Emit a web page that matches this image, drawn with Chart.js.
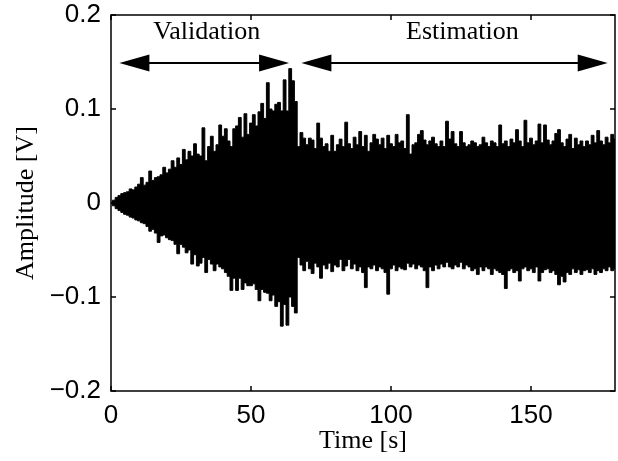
<!DOCTYPE html>
<html>
<head>
<meta charset="utf-8">
<script src="https://cdn.jsdelivr.net/npm/chart.js@4/dist/chart.umd.min.js"></script>
<style>
  html, body { margin: 0; padding: 0; background: #fff; }
  canvas { display: block; }
</style>
</head>
<body>
<canvas id="chart" width="618" height="461"></canvas>
<script>
// sample times [s]
const sampleTimes = [
  0, 1, 2, 3, 4, 5, 6, 7, 8, 9,
  10, 11, 12, 13, 14, 15, 16, 17, 18, 19,
  20, 21, 22, 23, 24, 25, 26, 27, 28, 29,
  30, 31, 32, 33, 34, 35, 36, 37, 38, 39,
  40, 41, 42, 43, 44, 45, 46, 47, 48, 49,
  50, 51, 52, 53, 54, 55, 56, 57, 58, 59,
  60, 61, 62, 63, 64, 65, 66, 67, 68, 69,
  70, 71, 72, 73, 74, 75, 76, 77, 78, 79,
  80, 81, 82, 83, 84, 85, 86, 87, 88, 89,
  90, 91, 92, 93, 94, 95, 96, 97, 98, 99,
  100, 101, 102, 103, 104, 105, 106, 107, 108, 109,
  110, 111, 112, 113, 114, 115, 116, 117, 118, 119,
  120, 121, 122, 123, 124, 125, 126, 127, 128, 129,
  130, 131, 132, 133, 134, 135, 136, 137, 138, 139,
  140, 141, 142, 143, 144, 145, 146, 147, 148, 149,
  150, 151, 152, 153, 154, 155, 156, 157, 158, 159,
  160, 161, 162, 163, 164, 165, 166, 167, 168, 169,
  170, 171, 172, 173, 174, 175, 176, 177, 178, 179,
  180
];

// upper envelope of the signal [V]
const upperEnvelope = [
  0, .003, .006, .008, .010, .011, .012, .015, .014, .017,
  .020, .027, .019, .022, .034, .024, .027, .028, .030, .038,
  .032, .036, .045, .038, .048, .041, .057, .046, .055, .050,
  .063, .052, .050, .080, .045, .060, .071, .055, .062, .083,
  .071, .079, .066, .060, .079, .082, .091, .070, .095, .073,
  .085, .094, .082, .097, .106, .090, .128, .100, .098, .105,
  .107, .098, .131, .098, .143, .130, .108, .060, .075, .069,
  .062, .069, .067, .058, .085, .069, .060, .063, .055, .072,
  .055, .062, .068, .060, .086, .063, .058, .070, .062, .076,
  .060, .072, .055, .064, .073, .068, .062, .069, .058, .072,
  .063, .060, .073, .064, .066, .058, .094, .052, .062, .064,
  .073, .077, .067, .062, .066, .070, .063, .060, .066, .060,
  .087, .068, .076, .063, .060, .076, .064, .060, .062, .066,
  .064, .060, .062, .070, .064, .060, .066, .064, .060, .083,
  .063, .066, .060, .068, .064, .078, .066, .060, .088, .064,
  .069, .062, .066, .084, .064, .083, .067, .062, .066, .074,
  .078, .064, .060, .068, .073, .058, .069, .062, .066, .060,
  .066, .062, .072, .064, .077, .066, .062, .070, .064, .073,
  .068
];

// lower envelope of the signal [V]
const lowerEnvelope = [
  0, -.003, -.006, -.008, -.010, -.012, -.013, -.015, -.016, -.018,
  -.019, -.021, -.022, -.025, -.030, -.028, -.032, -.042, -.035, -.034,
  -.037, -.039, -.040, -.044, -.054, -.044, -.047, -.053, -.050, -.065,
  -.055, -.067, -.064, -.058, -.074, -.060, -.065, -.072, -.065, -.068,
  -.070, -.074, -.078, -.093, -.080, -.093, -.080, -.092, -.085, -.088,
  -.088, -.086, -.092, -.104, -.092, -.095, -.096, -.104, -.098, -.110,
  -.105, -.131, -.108, -.130, -.100, -.110, -.117, -.058, -.066, -.072,
  -.062, -.070, -.075, -.064, -.068, -.080, -.066, -.070, -.064, -.073,
  -.066, -.068, -.060, -.072, -.067, -.060, -.070, -.065, -.072, -.068,
  -.074, -.090, -.068, -.070, -.066, -.072, -.068, -.070, -.074, -.097,
  -.070, -.066, -.072, -.068, -.070, -.071, -.064, -.068, -.065, -.070,
  -.066, -.068, -.072, -.090, -.068, -.072, -.066, -.070, -.065, -.068,
  -.063, -.068, -.070, -.066, -.068, -.063, -.070, -.066, -.068, -.072,
  -.070, -.076, -.068, -.072, -.068, -.070, -.076, -.070, -.072, -.074,
  -.076, -.091, -.072, -.070, -.074, -.072, -.083, -.070, -.068, -.072,
  -.070, -.074, -.068, -.083, -.074, -.071, -.070, -.074, -.072, -.076,
  -.087, -.078, -.084, -.074, -.076, -.070, -.074, -.071, -.076, -.072,
  -.071, -.074, -.070, -.076, -.072, -.074, -.070, -.072, -.068, -.072,
  -.070
];

const xTicks = [0, 50, 100, 150];
const yTicks = [-0.2, -0.1, 0, 0.1, 0.2];
const yTickLabels = ["\u22120.2", "\u22120.1", "0", "0.1", "0.2"];

// phases marked by arrows [s]
const phaseNames = ["Validation", "Estimation"];
const phaseStart = [3, 68];
const phaseEnd = [63.6, 177.4];
const phaseLabelAt = [34.2, 125.5];

// box + inward ticks, matlab style
const frameBox = {
  id: 'frameBox',
  afterDatasetsDraw(chart) {
    const { ctx, chartArea: a, scales } = chart;
    ctx.save();
    ctx.strokeStyle = '#000';
    ctx.lineWidth = 1.5;
    ctx.strokeRect(a.left, a.top, a.right - a.left, a.bottom - a.top);
    ctx.beginPath();
    xTicks.forEach(t => {
      const px = scales.x.getPixelForValue(t);
      ctx.moveTo(px, a.bottom); ctx.lineTo(px, a.bottom - 5);
      ctx.moveTo(px, a.top); ctx.lineTo(px, a.top + 5);
    });
    yTicks.forEach(v => {
      const py = scales.y.getPixelForValue(v);
      ctx.moveTo(a.left, py); ctx.lineTo(a.left + 5, py);
      ctx.moveTo(a.right, py); ctx.lineTo(a.right - 5, py);
    });
    ctx.stroke();
    ctx.restore();
  }
};

// double arrows with their labels
const phaseArrows = {
  id: 'phaseArrows',
  afterDraw(chart) {
    const { ctx, scales } = chart;
    const y = scales.y.getPixelForValue(0.149);
    const yText = scales.y.getPixelForValue(0.182);
    const headLen = 30, headHalf = 8.5;
    ctx.save();
    ctx.fillStyle = '#000';
    ctx.strokeStyle = '#000';
    ctx.lineWidth = 2;
    ctx.font = '26px "Liberation Serif"';
    ctx.textAlign = 'center';
    ctx.textBaseline = 'middle';
    phaseNames.forEach((name, i) => {
      const x1 = scales.x.getPixelForValue(phaseStart[i]);
      const x2 = scales.x.getPixelForValue(phaseEnd[i]);
      ctx.beginPath();
      ctx.moveTo(x1 + headLen - 2, y);
      ctx.lineTo(x2 - headLen + 2, y);
      ctx.stroke();
      ctx.beginPath();
      ctx.moveTo(x1, y);
      ctx.lineTo(x1 + headLen, y - headHalf);
      ctx.lineTo(x1 + headLen, y + headHalf);
      ctx.closePath();
      ctx.moveTo(x2, y);
      ctx.lineTo(x2 - headLen, y - headHalf);
      ctx.lineTo(x2 - headLen, y + headHalf);
      ctx.closePath();
      ctx.fill();
      ctx.fillText(name, scales.x.getPixelForValue(phaseLabelAt[i]), yText);
    });
    ctx.restore();
  }
};

const chart = new Chart(document.getElementById('chart'), {
  type: 'line',
  data: {
    labels: sampleTimes,
    datasets: [
      {
        data: upperEnvelope,
        borderColor: '#000',
        backgroundColor: '#000',
        borderWidth: 1,
        pointRadius: 0,
        stepped: 'middle',
        fill: '+1'
      },
      {
        data: lowerEnvelope,
        borderColor: '#000',
        backgroundColor: '#000',
        borderWidth: 1,
        pointRadius: 0,
        stepped: 'middle',
        fill: false
      }
    ]
  },
  options: {
    responsive: false,
    animation: false,
    devicePixelRatio: 1,
    layout: { padding: { left: 0, right: 3, top: 15, bottom: 0 } },
    plugins: { legend: { display: false }, tooltip: { enabled: false } },
    scales: {
      x: {
        type: 'linear',
        min: 0,
        max: 180,
        afterBuildTicks: s => { s.ticks = xTicks.map(v => ({ value: v })); },
        afterFit: s => { s.height = 70; s.paddingLeft = 0; s.paddingRight = 0; },
        grid: { display: false, drawTicks: false },
        border: { display: false },
        ticks: {
          autoSkip: false,
          maxRotation: 0,
          padding: 9,
          color: '#000',
          font: { family: 'Liberation Sans', size: 26 },
          callback: v => String(v)
        },
        title: {
          display: true,
          text: 'Time [s]',
          color: '#000',
          font: { family: 'Liberation Serif', size: 26 },
          padding: { top: 0, bottom: 4 }
        }
      },
      y: {
        type: 'linear',
        min: -0.2,
        max: 0.2,
        afterBuildTicks: s => { s.ticks = yTicks.map(v => ({ value: v })); },
        afterFit: s => { s.width = 111; s.paddingTop = 0; s.paddingBottom = 0; },
        grid: { display: false, drawTicks: false },
        border: { display: false },
        ticks: {
          autoSkip: false,
          padding: 10,
          color: '#000',
          font: { family: 'Liberation Sans', size: 26 },
          callback: (v, i) => yTickLabels[i]
        },
        title: {
          display: true,
          text: 'Amplitude [V]',
          color: '#000',
          font: { family: 'Liberation Serif', size: 26 },
          padding: { top: 11, bottom: 0 }
        }
      }
    }
  },
  plugins: [frameBox, phaseArrows]
});
</script>
</body>
</html>
